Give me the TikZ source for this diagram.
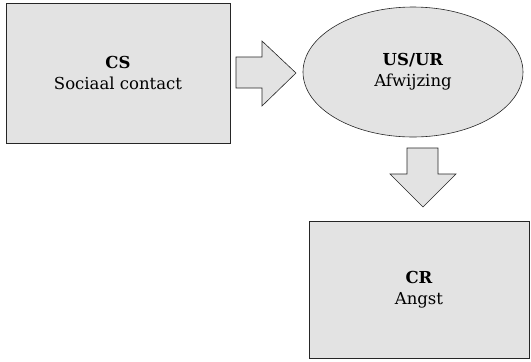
\documentclass[tikz,border=0pt]{standalone}
\usepackage{fontspec}
\setmainfont{DejaVu Serif}
\usetikzlibrary{shapes.geometric,shapes.arrows}
\definecolor{boxfill}{HTML}{E3E3E3}
\tikzset{
  boxstyle/.style={draw=black!85, fill=boxfill, line width=0.8pt, align=center, font=\fontsize{16.5}{21}\selectfont},
  ellstyle/.style={draw=black!85, fill=boxfill, line width=0.6pt, ellipse, align=center, font=\fontsize{16.5}{21}\selectfont},
  bigarrow/.style={draw=black!85, fill=boxfill, line width=0.6pt}
}
\begin{document}
\begin{tikzpicture}[x=1pt,y=-1pt]
\useasboundingbox (0,0) rectangle (531,362);
\node[boxstyle, minimum width=224pt, minimum height=140pt] (cs) at (118,73) {\textbf{CS}\\Sociaal contact};
\node[ellstyle, minimum width=220pt, minimum height=130pt, inner sep=0pt] (us) at (413,72) {\textbf{US/UR}\\Afwijzing};
\node[boxstyle, minimum width=220pt, minimum height=137pt] (cr) at (419,289.5) {\textbf{CR}\\Angst};
% right arrow
\draw[bigarrow] (236,57) -- (262,57) -- (262,41) -- (296,73) -- (262,106) -- (262,88) -- (236,88) -- cycle;
% down arrow
\draw[bigarrow] (407,148) -- (438,148) -- (438,174) -- (456,174) -- (423,207) -- (390,174) -- (407,174) -- cycle;
\end{tikzpicture}
\end{document}
